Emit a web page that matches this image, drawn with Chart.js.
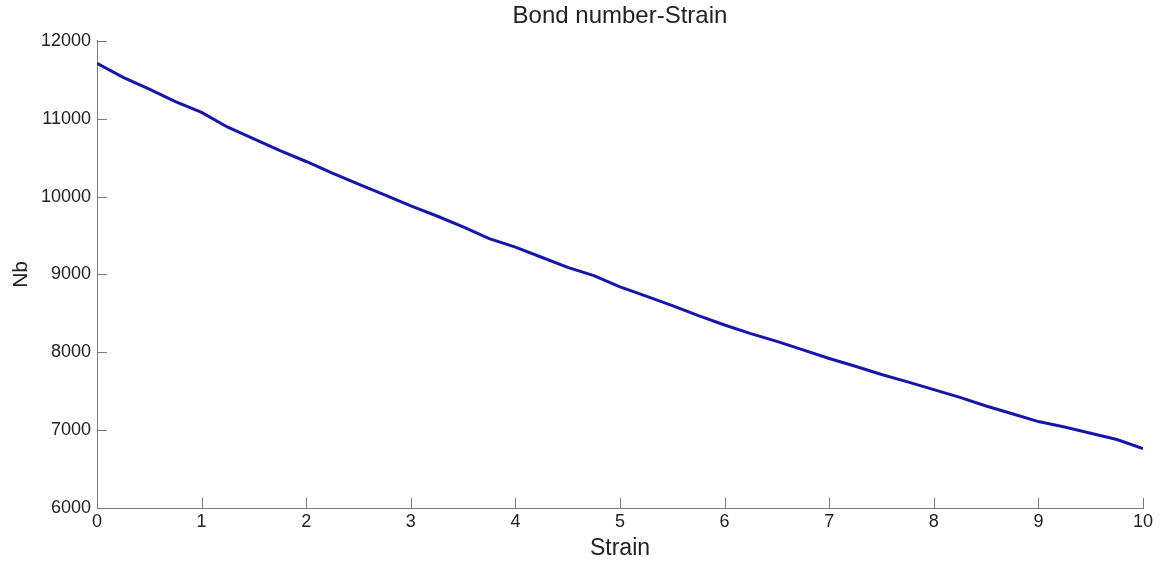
<!DOCTYPE html>
<html>
<head>
<meta charset="utf-8">
<script src="https://cdn.jsdelivr.net/npm/chart.js@4/dist/chart.umd.min.js"></script>
<style>
  html, body { margin: 0; padding: 0; background: #fff; }
  #wrap { width: 1163px; height: 562px; }
</style>
</head>
<body>
<div id="wrap"><canvas id="bonds" width="1163" height="562"></canvas></div>
<script>
// values
var strain = [0, 0.25, 0.5, 0.75, 1, 1.25, 1.5, 1.75, 2, 2.25, 2.5, 2.75, 3, 3.25, 3.5, 3.75, 4, 4.25, 4.5, 4.75, 5,
  5.25, 5.5, 5.75, 6, 6.25, 6.5, 6.75, 7, 7.25, 7.5, 7.75, 8, 8.25, 8.5, 8.75, 9, 9.25, 9.5, 9.75, 10];
var nb = [11710, 11530, 11380, 11220, 11080, 10890, 10740, 10590, 10450, 10300, 10160, 10020, 9880, 9750, 9610, 9460, 9350,
  9220, 9090, 8985, 8840, 8720, 8600, 8470, 8350, 8240, 8140, 8030, 7920, 7820, 7715, 7620, 7520, 7420, 7310, 7210,
  7110, 7040, 6960, 6880, 6762];
var xTicks = [0, 1, 2, 3, 4, 5, 6, 7, 8, 9, 10];
var yTicks = [6000, 7000, 8000, 9000, 10000, 11000, 12000];

var points = strain.map(function (s, i) { return { x: s, y: nb[i] }; });
var axisGrey = '#7a7a7a';
var textCol = '#222222';
var fontFam = '"Liberation Sans", Arial, Helvetica, sans-serif';

// matlab style ticks pointing into the plot
var innerTicks = {
  id: 'innerTicks',
  afterDatasetsDraw: function (chart) {
    var c = chart.ctx, a = chart.chartArea;
    var xs = chart.scales.x, ys = chart.scales.y;
    c.save();
    c.strokeStyle = axisGrey;
    c.lineWidth = 1;
    c.beginPath();
    xTicks.forEach(function (t) {
      var px = Math.round(xs.getPixelForValue(t)) + 0.5;
      c.moveTo(px, a.bottom);
      c.lineTo(px, a.bottom - 10);
    });
    yTicks.forEach(function (t) {
      var py = Math.round(ys.getPixelForValue(t)) + 0.5;
      c.moveTo(a.left, py);
      c.lineTo(a.left + 10, py);
    });
    c.stroke();
    c.restore();
  }
};

var ctx = document.getElementById('bonds').getContext('2d');
var bondChart = new Chart(ctx, {
  type: 'line',
  data: {
    datasets: [{
      label: 'Nb',
      data: points,
      borderColor: '#1616ad',
      borderWidth: 3,
      pointRadius: 0,
      fill: false,
      tension: 0
    }]
  },
  options: {
    responsive: false,
    animation: false,
    layout: { padding: { left: 0, right: 20, top: 0, bottom: 0 } },
    plugins: {
      legend: { display: false },
      tooltip: { enabled: false },
      title: {
        display: true,
        text: 'Bond number-Strain',
        fullSize: false,
        color: textCol,
        font: { family: fontFam, size: 24, weight: 'normal' },
        padding: { top: 2, bottom: 10 }
      }
    },
    scales: {
      x: {
        type: 'linear',
        min: 0,
        max: 10,
        afterFit: function (scale) { scale.height = 54; },
        afterBuildTicks: function (scale) { scale.ticks = xTicks.map(function (v) { return { value: v }; }); },
        ticks: { color: textCol, padding: 3, maxRotation: 0, font: { family: fontFam, size: 18 } },
        grid: { drawOnChartArea: false, drawTicks: false },
        border: { display: true, color: axisGrey, width: 1 },
        title: {
          display: true,
          text: 'Strain',
          color: textCol,
          font: { family: fontFam, size: 23 },
          padding: { top: 0, bottom: 0 }
        }
      },
      y: {
        type: 'linear',
        min: 6000,
        max: 12000,
        afterFit: function (scale) { scale.width = 97; },
        afterBuildTicks: function (scale) { scale.ticks = yTicks.map(function (v) { return { value: v }; }); },
        ticks: {
          color: textCol,
          padding: 6,
          font: { family: fontFam, size: 18 },
          callback: function (v) { return String(v); }
        },
        grid: { drawOnChartArea: false, drawTicks: false },
        border: { display: true, color: axisGrey, width: 1 },
        title: {
          display: true,
          text: 'Nb',
          color: textCol,
          font: { family: fontFam, size: 21 },
          padding: { top: 9, bottom: 0 }
        }
      }
    }
  },
  plugins: [innerTicks]
});
</script>
</body>
</html>
